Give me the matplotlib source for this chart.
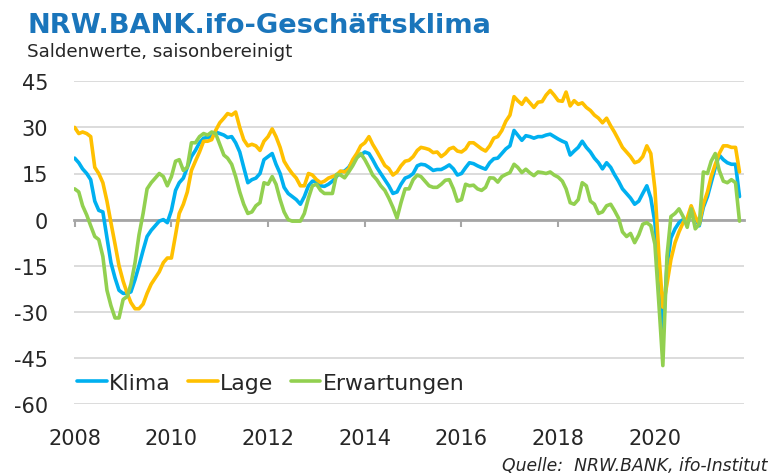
"""
NRW.BANK.ifo-Geschaeftsklima: Klima, Lage und Erwartungen, Saldenwerte saisonbereinigt
"""

#---------------------------------------------------------------------------------------------------
# Import Modules
#---------------------------------------------------------------------------------------------------

import datetime as dt
import matplotlib
matplotlib.use('Agg')
import matplotlib.pyplot as plt
import matplotlib.dates as mdates
import pandas as pd


#---------------------------------------------------------------------------------------------------
# Input Data (monthly values, starting January 2008)
#---------------------------------------------------------------------------------------------------

start_month = '2008-01-01'

klima = [20, 18.5, 16.5, 15, 13, 6, 3, 2.5, -6, -14, -19, -23,
         -24, -24, -23.5, -19.5, -15, -10, -5.5, -3.5, -2, -0.5, 0, -1,
         3, 9.5, 12, 13.5, 17, 20.5, 22.5, 25, 26.5, 26.7, 27, 28.5,
         28, 27.5, 26.7, 27, 25, 22, 17, 12, 13, 13.5, 15, 19.5,
         20.5, 21.5, 18, 15, 10.5, 8.5, 7.5, 6.5, 5, 7.5, 11, 12.5,
         12.5, 11, 10.8, 11.5, 12.5, 14, 15.5, 15.8, 17, 19, 20.5, 21,
         22, 21.5, 19.5, 17, 15, 13, 11, 8.5, 9, 11.5, 13.5, 14,
         15, 17.5, 18, 17.8, 17, 16, 16.3, 16.3, 17, 17.8, 16.5, 14.5,
         15, 16.9, 18.5, 18.2, 17.5, 16.9, 16.4, 18.5, 19.8, 20, 21.5, 23,
         24, 29, 27.5, 25.8, 27.3, 27, 26.5, 27, 27, 27.5, 27.8, 27,
         26.2, 25.5, 25, 21, 22.3, 23.5, 25.5, 23.5, 22, 20, 18.5, 16.5,
         18.5, 17, 14.7, 12.5, 10, 8.5, 7, 5, 6, 8.5, 11, 7,
         -1, -18, -37.5, -15, -6, -3, -1, 0, 0, 2, 0.5, -2,
         4, 7.5, 12, 17, 21, 19.5, 18.5, 18, 18, 7.5]

lage = [30, 28, 28.5, 28, 27, 17, 15, 12, 6, -1, -8, -15,
        -20, -24, -27, -29, -29, -27.5, -24, -21, -19, -17, -14, -12.5,
        -12.5, -5, 2, 5, 9, 16, 19, 22, 25.5, 25.5, 26, 29,
        31.5, 33, 34.5, 34, 35, 30, 26, 24, 24.5, 24, 22.5, 25.5,
        27, 29.5, 27, 23.5, 19, 16.8, 15, 13.5, 11, 11, 15, 14.5,
        13, 12, 12.5, 13.5, 14, 14.5, 15.8, 15.5, 16.5, 19.5, 21.5, 24,
        25, 27, 24.5, 22.3, 20, 17.6, 16.6, 14.5, 15.5, 17.5, 19, 19.3,
        20.5, 22.5, 23.5, 23.2, 22.8, 21.8, 22, 20.5, 21.5, 23, 23.5, 22.3,
        22, 23, 25, 25, 24, 23, 22.3, 24, 26.5, 27, 29, 32,
        34, 40, 38.7, 37.5, 39.5, 38, 36.5, 38.2, 38.4, 40.5, 42, 40.5,
        38.7, 38.5, 41.5, 37, 38.7, 37.5, 38, 36.5, 35.5, 34, 33, 31.5,
        33, 30.5, 28.5, 26, 23.5, 22, 20.5, 18.5, 19, 20.5, 24, 21.5,
        10, -12, -28.5, -21, -13, -7.5, -4, -1, 0.5, 4.5, 1, -1.5,
        5, 9, 14, 18, 21.5, 24, 24, 23.5, 23.5, 15.5]

erwartungen = [10, 9, 4.5, 1.5, -2, -5.5, -6.5, -12, -23, -28, -32, -32,
               -26, -25, -21, -14, -5, 2, 10, 12, 13.5, 15, 14, 11,
               14, 19, 19.5, 16, 17, 25, 25, 27, 28, 27.5, 28.5, 28,
               24.5, 21, 20, 18, 14, 9, 5, 2, 2.5, 4.5, 5.5, 12,
               11.5, 14, 11.5, 6.5, 2.5, 0, -0.5, -0.5, -0.5, 2, 7, 11,
               11.5, 9.5, 8.5, 8.5, 8.5, 14.7, 14.5, 13.6, 15.5, 17.5, 20, 21.5,
               19.5, 17, 14.5, 13, 11, 9.5, 7, 4, 0.5, 5.5, 10, 10,
               13, 14.5, 14, 12.5, 11, 10.5, 10.5, 11.5, 12.8, 13, 10, 6,
               6.5, 11.5, 11, 11.2, 10, 9.5, 10.5, 13.6, 13.5, 12.2, 14, 14.7,
               15.3, 18, 17, 15.3, 16.4, 15.2, 14.3, 15.5, 15.3, 15, 15.5, 14.5,
               13.8, 12.5, 10, 5.5, 5, 6.5, 12, 11, 6, 5, 2, 2.5,
               4.5, 5, 3, 0.5, -4, -5.5, -4.5, -7.5, -5, -1.5, -1, -2,
               -8, -28, -47.5, -12, 1, 2, 3.5, 1, -2.5, 3.5, -3, -1.5,
               15.5, 15, 19, 21.5, 16, 12.5, 12, 13, 12, -0.5]

series_names = ['Klima', 'Lage', 'Erwartungen']
yticks = [45, 30, 15, 0, -15, -30, -45, -60]
tick_years = [2008, 2010, 2012, 2014, 2016, 2018, 2020]

title = 'NRW.BANK.ifo-Geschäftsklima'
subtitle = 'Saldenwerte, saisonbereinigt'
source = 'Quelle:  NRW.BANK, ifo-Institut'


#---------------------------------------------------------------------------------------------------
# Main Program
#---------------------------------------------------------------------------------------------------

W, H = 771, 477
colors = {'Klima': '#00b0f0', 'Lage': '#ffc000', 'Erwartungen': '#92d050'}
text_color = '#262626'
font = 'DejaVu Sans'
fontsize = 15


def fit_width(txt, width_px):
    """Scale a text's font size so it spans the given width in pixels"""
    fig.canvas.draw()
    w = txt.get_window_extent().width
    txt.set_fontsize(txt.get_fontsize() * width_px / w)


months = mdates.date2num(pd.date_range(start_month, periods=len(klima), freq='MS').to_pydatetime())
values = {'Klima': klima, 'Lage': lage, 'Erwartungen': erwartungen}

fig = plt.figure(figsize=(W / 100, H / 100), dpi=100)
ax = fig.add_axes([74 / W, 1 - 405 / H, (744 - 74) / W, (405 - 82.3) / H])

for name in series_names:
    ax.plot(months, values[name], color=colors[name], lw=2.6, label=name, zorder=3,
            solid_joinstyle='round', solid_capstyle='round')

# Axes formatting
ax.set_ylim(-60, 45)
ax.set_xlim(mdates.date2num(dt.datetime(2007, 12, 27)), mdates.date2num(dt.datetime(2021, 11, 4)))
ax.set_yticks(yticks)
ax.set_yticklabels([str(v) for v in yticks], fontfamily=font, fontsize=fontsize, color=text_color)
ax.grid(axis='y', color='#d9d9d9', lw=1.3, zorder=0)
ax.set_axisbelow(True)
ax.tick_params(axis='y', length=0, pad=18.5)
for s in ['left', 'right', 'top']:
    ax.spines[s].set_visible(False)

# zero line carries the tick marks, year labels sit below the plot
ax.spines['bottom'].set_position(('data', 0))
ax.spines['bottom'].set_color('#a6a6a6')
ax.spines['bottom'].set_linewidth(2.0)
ax.spines['bottom'].set_zorder(1)
tick_pos = [mdates.date2num(dt.datetime(y, 1, 1)) for y in tick_years]
ax.set_xticks(tick_pos)
ax.tick_params(axis='x', direction='out', length=5, width=1.5, color='#a6a6a6', labelbottom=False)

sec = ax.secondary_xaxis('bottom')
sec.set_xticks(tick_pos, labels=[str(y) for y in tick_years])
sec.tick_params(length=0, pad=17, labelsize=fontsize, labelcolor=text_color)
for lbl in sec.get_xticklabels():
    lbl.set_fontfamily(font)
sec.spines['bottom'].set_visible(False)

leg = ax.legend(loc='center left', bbox_to_anchor=(77 / W, 1 - 384 / H), bbox_transform=fig.transFigure,
                ncols=3, frameon=False, handlelength=1.35, handletextpad=0.1, columnspacing=0.8,
                borderpad=0, borderaxespad=0, prop={'family': font, 'size': 15.8})
for t in leg.get_texts():
    t.set_color(text_color)

# Titles and source
t_title = fig.text(27 / W, 1 - 33 / H, title, fontfamily=font, fontweight='bold', fontsize=19.5,
                   color='#1a75bb', va='baseline', ha='left')
t_sub = fig.text(27 / W, 1 - 57 / H, subtitle, fontfamily=font, fontsize=13, color=text_color,
                 va='baseline', ha='left')
t_src = fig.text(768 / W, 1 - 471 / H, source, fontfamily=font, fontstyle='italic', fontsize=11,
                 color=text_color, va='baseline', ha='right')
fit_width(t_title, 465)
fit_width(t_sub, 266)
fit_width(t_src, 265)

fig.savefig('out.png', dpi=100)
